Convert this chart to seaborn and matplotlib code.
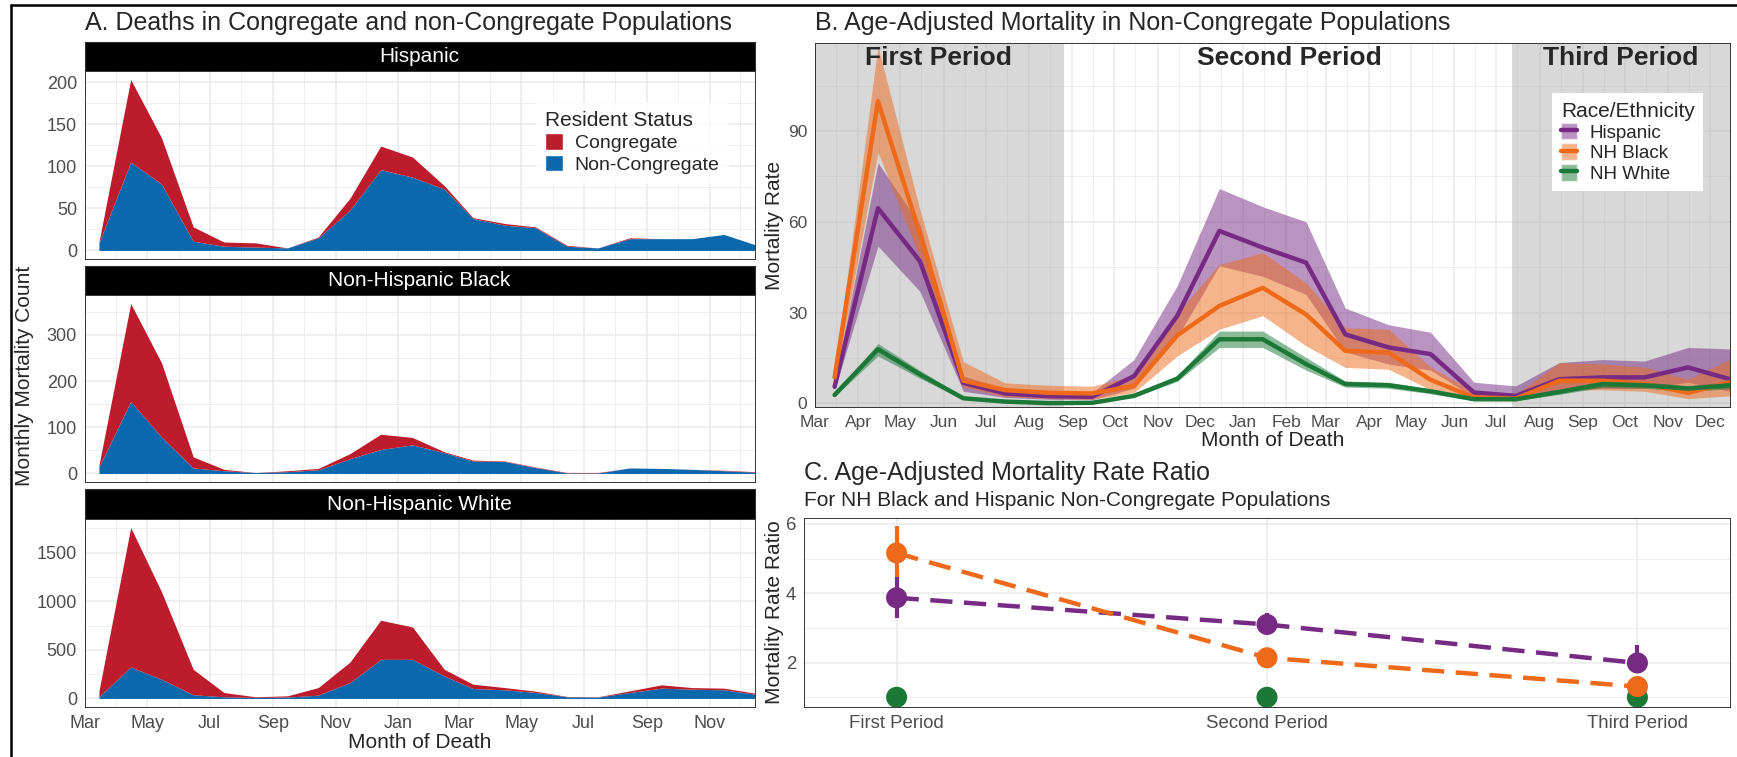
import numpy as np
import pandas as pd
import matplotlib
matplotlib.use("Agg")
import matplotlib.pyplot as plt
import matplotlib.dates as mdates
from matplotlib.patches import Patch
from matplotlib.lines import Line2D
from matplotlib.ticker import MultipleLocator, FixedLocator
import seaborn as sns

W, H = 1737, 757

# ---------------- data ----------------
months = pd.date_range("2020-03-01", "2021-12-01", freq="MS") + pd.Timedelta(days=14)
x_start, x_end = pd.Timestamp("2020-03-01"), pd.Timestamp("2021-12-15")

# panel A: monthly death counts (stacked: non-congregate below, congregate on top)
hisp_non = [9, 105, 79, 11, 5, 4, 3, 15, 48, 96, 87, 73, 38, 30, 27, 5, 3, 14, 14, 14, 19, 7]
hisp_cong = [1, 98, 55, 17, 5, 5, 0, 1, 14, 28, 24, 4, 1, 2, 1, 1, 0, 1, 0, 0, 0, 0]
black_non = [14, 156, 79, 12, 6, 2, 4, 8, 32, 52, 62, 45, 27, 26, 13, 1, 1, 12, 11, 9, 6, 3]
black_cong = [4, 212, 161, 24, 3, 0, 2, 3, 11, 33, 16, 2, 2, 1, 1, 1, 1, 0, 0, 0, 1, 1]
white_non = [17, 324, 198, 38, 17, 10, 14, 34, 164, 402, 402, 232, 102, 89, 62, 17, 14, 61, 106, 95, 89, 44]
white_cong = [61, 1435, 902, 262, 44, 7, 13, 78, 211, 403, 334, 68, 45, 23, 13, 3, 3, 17, 34, 17, 17, 11]

facets = ["Hispanic", "Non-Hispanic Black", "Non-Hispanic White"]
facet_step = [50, 100, 500]

# panel B: age-adjusted mortality rate with CI
hisp_rate = [5.5, 64.5, 47, 6.8, 3.3, 2.4, 2.2, 9, 29, 57, 51.5, 46.5, 22.8, 18.5, 16.3, 3.6, 2.5, 8, 8.6, 8.6, 11.9, 8]
hisp_lo = [4.3, 52, 37, 4, 2, 1.4, 1.2, 5, 22, 45.5, 42, 36, 17, 13, 11, 2, 1.5, 4.5, 5, 5, 7, 4]
hisp_hi = [7, 79.5, 59, 9, 5, 3.8, 3.5, 14.5, 39, 71, 65, 60, 31.5, 26, 23.5, 7, 5.8, 13.5, 14.5, 14, 18.5, 18]
black_rate = [8.6, 99.8, 56, 7.5, 4.4, 3.5, 3.3, 5.8, 22.5, 32.2, 38.2, 29.4, 17.4, 16.8, 7.8, 2, 1.6, 7.5, 7.5, 6.5, 3.5, 7]
black_lo = [6.5, 83, 48, 5.5, 2.2, 1.6, 1.3, 3.6, 15.7, 24.5, 29, 19, 11.9, 11.3, 4.5, 1, 0.8, 4.5, 4.5, 4, 1.6, 2.5]
black_hi = [10.5, 118, 64, 13.8, 6.8, 6, 5.7, 9.1, 30, 45.9, 49.8, 39.9, 25, 24.5, 12, 4, 3, 13.5, 13, 12, 8, 14.6]
white_rate = [2.8, 17.9, 9.6, 1.7, 0.6, 0.1, 0.2, 2.5, 8.2, 21.2, 21.2, 13, 6.4, 6, 4, 1.4, 1.4, 3.8, 6.4, 6, 4.9, 6]
white_lo = [2.3, 15.7, 8.3, 1.3, 0.4, 0, 0, 2.1, 7.3, 18.5, 18.5, 11, 5.4, 5, 3.2, 0.9, 0.9, 3, 5.3, 5, 3.9, 4.9]
white_hi = [3.4, 19.8, 10.9, 2.2, 0.9, 0.4, 0.5, 3, 9.2, 23.9, 23.9, 15.2, 7.4, 7, 4.8, 1.9, 1.9, 4.6, 7.5, 7, 5.9, 7.1]

groups = ["Hispanic", "NH Black", "NH White"]
period_names = ["First Period", "Second Period", "Third Period"]
period_shade = [(pd.Timestamp("2020-03-01"), pd.Timestamp("2020-08-26")),
                (pd.Timestamp("2021-07-12"), pd.Timestamp("2021-12-15"))]
period_label_x = [pd.Timestamp("2020-05-28"), pd.Timestamp("2021-02-03"), pd.Timestamp("2021-09-28")]

# panel C: mortality rate ratios vs NH White
rr_hisp = [3.87, 3.10, 1.99]
rr_hisp_lo = [3.30, 2.82, 1.78]
rr_hisp_hi = [4.48, 3.44, 2.50]
rr_black = [5.16, 2.14, 1.31]
rr_black_lo = [4.48, 1.98, 1.15]
rr_black_hi = [5.93, 2.30, 1.48]
rr_white = [1, 1, 1]

# ---------------- style ----------------
RED, BLUE = "#BC1C2B", "#0A68AD"
pal = {"Hispanic": "#762A83", "NH Black": "#EE6A1A", "NH White": "#1B7837"}

sns.set_style("white")
plt.rcParams["font.family"] = ["Liberation Sans", "DejaVu Sans"]
GRID = "#EBEBEB"
TXT = "#4D4D4D"

fig = plt.figure(figsize=(W / 100, H / 100), dpi=100)


def place(l, t, r, b):
    return fig.add_axes([l / W, 1 - b / H, (r - l) / W, (b - t) / H])


def bw(ax, size=13):
    for s in ax.spines.values():
        s.set_visible(True)
        s.set_color("#333333")
        s.set_linewidth(0.7)
    ax.grid(True, which="major", color=GRID, lw=1.1, zorder=0)
    ax.grid(True, which="minor", color=GRID, lw=0.55, zorder=0)
    ax.set_axisbelow(True)
    ax.tick_params(which="major", length=3.5, width=0.7, color="#333333",
                   labelsize=size, labelcolor=TXT, pad=2)
    ax.tick_params(which="minor", length=0)


# ---------------- panel A ----------------
AL, AR = 84.6, 754.7
strips = [(42, 71), (266, 295), (489, 519)]
panels = [(71, 259), (295, 482), (519, 707)]
series = [(hisp_non, hisp_cong), (black_non, black_cong), (white_non, white_cong)]

for i, (name, (non, cong)) in enumerate(zip(facets, series)):
    st = place(AL, strips[i][0], AR, strips[i][1])
    st.set_facecolor("black")
    st.set_xticks([]); st.set_yticks([])
    for s in st.spines.values():
        s.set_color("#333333")
    st.text(0.5, 0.5, name, color="white", fontsize=15, ha="center", va="center",
            transform=st.transAxes)

    ax = place(AL, panels[i][0], AR, panels[i][1])
    non = np.array(non)
    tot = non + np.array(cong)
    ax.fill_between(months, 0, non, color=BLUE, lw=0, zorder=2)
    ax.fill_between(months, non, tot, color=RED, lw=0, zorder=2)
    ymax = tot.max()
    ax.set_ylim(-0.05 * ymax, 1.05 * ymax)
    ax.set_xlim(x_start, x_end)
    ax.yaxis.set_major_locator(MultipleLocator(facet_step[i]))
    ax.yaxis.set_minor_locator(MultipleLocator(facet_step[i] / 2))
    ax.xaxis.set_major_locator(mdates.MonthLocator(bymonth=[1, 3, 5, 7, 9, 11]))
    ax.xaxis.set_minor_locator(mdates.MonthLocator())
    ax.xaxis.set_major_formatter(mdates.DateFormatter("%b"))
    bw(ax, 13)
    if i < 2:
        ax.tick_params(axis="x", labelbottom=False)
    else:
        ax.set_xlabel("Month of Death", fontsize=15, labelpad=1)
    ax.set_ylabel("")

fig.text(25 / W, 1 - 376 / H, "Monthly Mortality Count", rotation=90, fontsize=15,
         ha="center", va="center")
fig.text(AL / W, 1 - 23 / H, "A. Deaths in Congregate and non-Congregate Populations",
         fontsize=18, ha="left", va="center")

legA = fig.legend(handles=[Patch(facecolor=RED), Patch(facecolor=BLUE)],
                  labels=["Congregate", "Non-Congregate"], title="Resident Status",
                  loc="upper left", bbox_to_anchor=(526 / W, 1 - 92 / H),
                  fontsize=14, title_fontsize=15, frameon=True, handlelength=0.9,
                  handleheight=0.9, handletextpad=0.6, labelspacing=0.15,
                  borderpad=0.5, fancybox=False)
legA.get_frame().set_edgecolor("none")
legA._legend_box.align = "left"

# ---------------- panel B ----------------
axB = place(815, 42.7, 1730, 407)
rates = {"Hispanic": (hisp_rate, hisp_lo, hisp_hi),
         "NH Black": (black_rate, black_lo, black_hi),
         "NH White": (white_rate, white_lo, white_hi)}
dfB = pd.concat([pd.DataFrame({"month": months, "rate": r[0], "group": g})
                 for g, r in rates.items()], ignore_index=True)

lo_all = min(min(r[1]) for r in rates.values())
hi_all = max(max(r[2]) for r in rates.values())
span = hi_all - lo_all
axB.set_ylim(lo_all - 0.01 * span, hi_all + 0.01 * span)
axB.set_xlim(x_start, x_end)

for a, b in period_shade:
    axB.axvspan(a, b, color="#A9A9A9", alpha=0.45, lw=0, zorder=1)
for g, (r, lo, hi) in rates.items():
    axB.fill_between(months, lo, hi, color=pal[g], alpha=0.5, lw=0, zorder=2)
sns.lineplot(data=dfB, x="month", y="rate", hue="group", palette=pal, lw=3.2,
             ax=axB, legend=False, zorder=3)
for name, xd in zip(period_names, period_label_x):
    axB.text(xd, 114, name, fontsize=19, fontweight="bold", ha="center", va="center", zorder=4)

axB.yaxis.set_major_locator(MultipleLocator(30))
axB.yaxis.set_minor_locator(MultipleLocator(15))
axB.xaxis.set_major_locator(mdates.MonthLocator())
axB.xaxis.set_minor_locator(mdates.MonthLocator(bymonthday=16))
axB.xaxis.set_major_formatter(mdates.DateFormatter("%b"))
bw(axB, 12.5)
axB.set_xlabel("Month of Death", fontsize=15, labelpad=1)
axB.set_ylabel("")
fig.text(775 / W, 1 - 225 / H, "Mortality Rate", rotation=90, fontsize=15,
         ha="center", va="center")
fig.text(815 / W, 1 - 23 / H, "B. Age-Adjusted Mortality in Non-Congregate Populations",
         fontsize=18, ha="left", va="center")

legB = fig.legend(handles=[(Patch(facecolor=pal[g], alpha=0.5), Line2D([], [], color=pal[g], lw=3.2))
                           for g in groups],
                  labels=groups, title="Race/Ethnicity", loc="upper left",
                  bbox_to_anchor=(1543 / W, 1 - 84 / H), fontsize=13.5, title_fontsize=15,
                  frameon=True, handlelength=0.85, handleheight=1.0, handletextpad=0.7,
                  labelspacing=0.1, borderpad=0.45, fancybox=False, framealpha=1)
legB.get_frame().set_edgecolor("none")
legB._legend_box.align = "left"

# ---------------- panel C ----------------
axC = place(804, 518, 1730, 707)
pos = np.arange(len(period_names))
dfC = pd.DataFrame({"pos": np.concatenate([pos, pos]),
                    "rr": rr_hisp + rr_black,
                    "group": ["Hispanic"] * 3 + ["NH Black"] * 3})
sns.lineplot(data=dfC, x="pos", y="rr", hue="group", palette=pal, lw=3.2,
             ax=axC, legend=False, zorder=2)
for ln in axC.get_lines():
    ln.set_dashes((5, 2.6))

pts = [("NH White", rr_white, None, None),
       ("NH Black", rr_black, rr_black_lo, rr_black_hi),
       ("Hispanic", rr_hisp, rr_hisp_lo, rr_hisp_hi)]
for g, rr, lo, hi in pts:
    if lo is not None:
        axC.vlines(pos, lo, hi, color=pal[g], lw=3, zorder=3)
    sns.scatterplot(x=pos, y=rr, color=pal[g], s=230, edgecolor="none", ax=axC,
                    legend=False, zorder=4)

axC.set_xlim(-0.25, 2.25)
axC.set_ylim(0.72, 6.17)
axC.set_xticks(pos)
axC.set_xticklabels(period_names)
axC.yaxis.set_major_locator(FixedLocator([2, 4, 6]))
axC.yaxis.set_minor_locator(FixedLocator([1, 3, 5]))
bw(axC, 13.4)
axC.set_xlabel(""); axC.set_ylabel("")
fig.text(775 / W, 1 - 612 / H, "Mortality Rate Ratio", rotation=90, fontsize=15,
         ha="center", va="center")
fig.text(804 / W, 1 - 473 / H, "C. Age-Adjusted Mortality Rate Ratio",
         fontsize=18, ha="left", va="center")
fig.text(804 / W, 1 - 501 / H, "For NH Black and Hispanic Non-Congregate Populations",
         fontsize=15, ha="left", va="center")

# outer frame lines
fig.add_artist(Line2D([11 / W, 11 / W], [0, 1 - 5 / H], transform=fig.transFigure,
                      color="black", lw=1.8))
fig.add_artist(Line2D([11 / W, 1], [1 - 5 / H, 1 - 5 / H], transform=fig.transFigure,
                      color="black", lw=1.8))

fig.savefig("out.png", dpi=100)
